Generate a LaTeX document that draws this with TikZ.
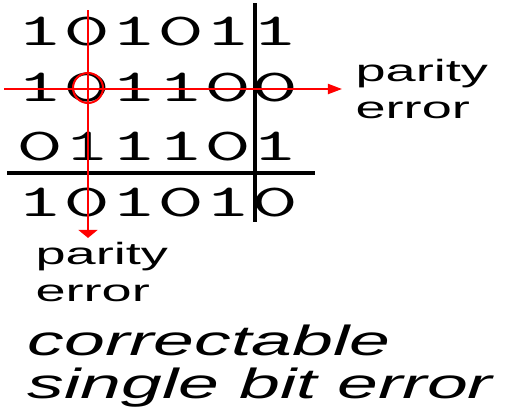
\documentclass[tikz,border=0pt]{standalone}
\usepackage{fontspec}
\setmainfont{Liberation Sans}
\usetikzlibrary{arrows.meta}

\begin{document}
\begin{tikzpicture}[x=0.02cm, y=-0.02cm,
  bits/.style={font=\ttfamily\fontsize{26}{26}\selectfont, inner sep=0,
    transform shape, xscale=2.0, anchor=base},
  note/.style={font=\fontsize{17.5}{21}\selectfont, align=left, inner sep=0,
    transform shape, xscale=1.76},
  caption/.style={font=\itshape\fontsize{24}{24.5}\selectfont, align=left,
    inner sep=0, transform shape, xscale=1.74},
  check/.style={red, line width=1.15pt}]

\useasboundingbox (0,0) rectangle (520,419);

% data block with parity row and column
\node[bits] (r1) at (157.5,45.5) {101011};
\node[bits] (r2) at (157.5,101.5) {101100};
\node[bits] (r3) at (157.5,160.5) {011101};
\node[bits] (r4) at (157.5,216.5) {101010};

% parity separators
\draw[line width=2.3pt] (255,3) -- (255,222);
\draw[line width=1.8pt] (7,173) -- (315,173);

% flipped bit
\node[check, draw, circle, minimum size=0.6cm, inner sep=0] (flip) at (88,88) {};

% labels
\node[note, anchor=west] (rowpar) at (355,89) {parity\\error};
\node[note, anchor=north west] (colpar) at (35,242) {parity\\error};
\node[caption, anchor=north west] (text) at (27,325) {correctable\\single bit error};

% row and column checks
\coordinate (rowstart) at (4,89);
\coordinate (coltop) at (88,10);
\draw[check, -{Triangle[length=8pt,width=5.7pt]}, shorten >=7.4pt]
  (rowstart) -- (rowpar.west);
\draw[check, -{Triangle[length=4.6pt,width=10.8pt]}, shorten >=2.3pt]
  (coltop) -- (coltop |- colpar.north);

\end{tikzpicture}
\end{document}
